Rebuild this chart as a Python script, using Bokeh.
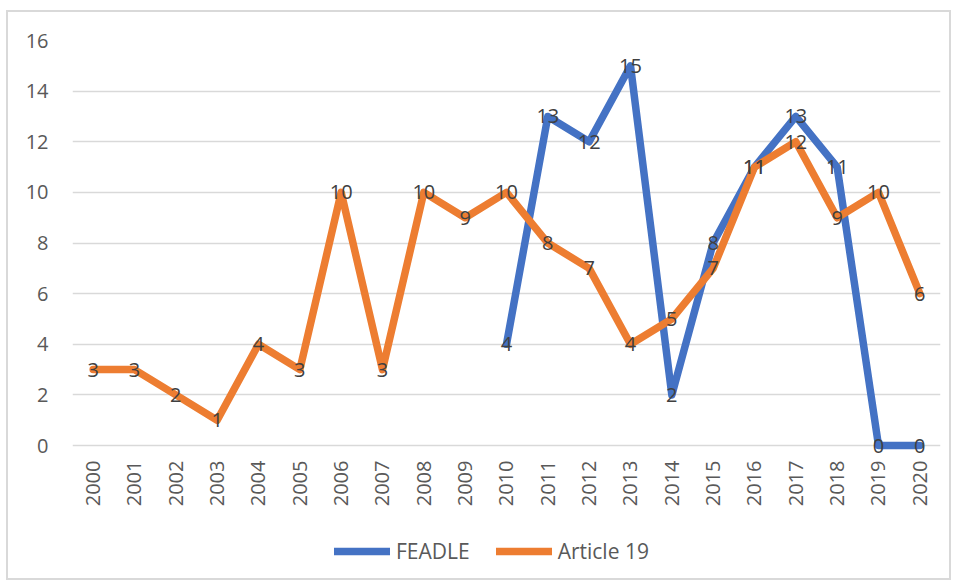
import math
from bokeh.plotting import figure
from bokeh.models import FixedTicker, Legend, LegendItem, ColumnDataSource
from bokeh.embed import file_html
from bokeh.resources import INLINE
from bokeh.core.properties import value

years = list(range(2000, 2021))
year_labels = [str(y) for y in years]
feadle_years = list(range(2010, 2021))
feadle = [4, 13, 12, 15, 2, 8, 11, 13, 11, 0, 0]
article19 = [3, 3, 2, 1, 4, 3, 10, 3, 10, 9, 10, 8, 7, 4, 5, 7, 11, 12, 9, 10, 6]
y_ticks = [0, 2, 4, 6, 8, 10, 12, 14, 16]

BLUE = "#4472C4"
ORANGE = "#ED7D31"
FONT = "Open Sans"
FS = "20px"

p = figure(width=945, height=570, x_range=(1999.5, 2020.5), y_range=(-5.41, 16),
           output_backend="svg", toolbar_location=None, sizing_mode="fixed",
           min_border_left=64, min_border_top=28, min_border_right=13, min_border_bottom=0)
p.outline_line_color = None
p.background_fill_color = "white"
p.border_fill_color = "white"

p.xgrid.grid_line_color = None
p.ygrid.grid_line_color = "#d9d9d9"
p.ygrid.grid_line_width = 1.5
p.yaxis.ticker = FixedTicker(ticks=y_ticks)
p.xaxis.ticker = FixedTicker(ticks=years)
p.xaxis.major_label_overrides = {y: s for y, s in zip(years, year_labels)}
p.xaxis.major_label_orientation = math.pi / 2
p.xaxis.fixed_location = 0
for ax in (p.xaxis, p.yaxis):
    ax.axis_line_color = None
    ax.major_tick_line_color = None
    ax.minor_tick_line_color = None
    ax.major_tick_out = 0
    ax.major_tick_in = 0
    ax.major_label_text_font = FONT
    ax.major_label_text_font_size = FS
    ax.major_label_text_color = "#595959"
p.yaxis.major_label_standoff = 24
p.xaxis.major_label_standoff = 15

src_f = ColumnDataSource(dict(x=feadle_years, y=feadle, t=[str(v) for v in feadle]))
src_a = ColumnDataSource(dict(x=years, y=article19, t=[str(v) for v in article19]))

r_f = p.line("x", "y", source=src_f, line_color=BLUE, line_width=7.5, line_join="round", line_cap="round")
r_a = p.line("x", "y", source=src_a, line_color=ORANGE, line_width=7.5, line_join="round", line_cap="round")

for src in (src_f, src_a):
    p.text("x", "y", text="t", source=src, text_align="center", text_baseline="middle",
           text_font=value(FONT), text_font_size=FS, text_color="#404040")

legend = Legend(items=[LegendItem(label="FEADLE", renderers=[r_f]),
                       LegendItem(label="Article 19", renderers=[r_a])],
                orientation="horizontal", location=(262, 17))
legend.glyph_width = 56
legend.glyph_height = 20
legend.label_standoff = 6
legend.spacing = 26
legend.padding = 4
legend.margin = 0
legend.border_line_color = None
legend.background_fill_alpha = 0
legend.label_text_font = FONT
legend.label_text_font_size = "21px"
legend.label_text_color = "#595959"
p.add_layout(legend, "center")

p.styles = {"border": "2px solid #d9d9d9", "margin-left": "6px", "margin-top": "10px"}

open("out.html", "w").write(file_html(p, INLINE))
